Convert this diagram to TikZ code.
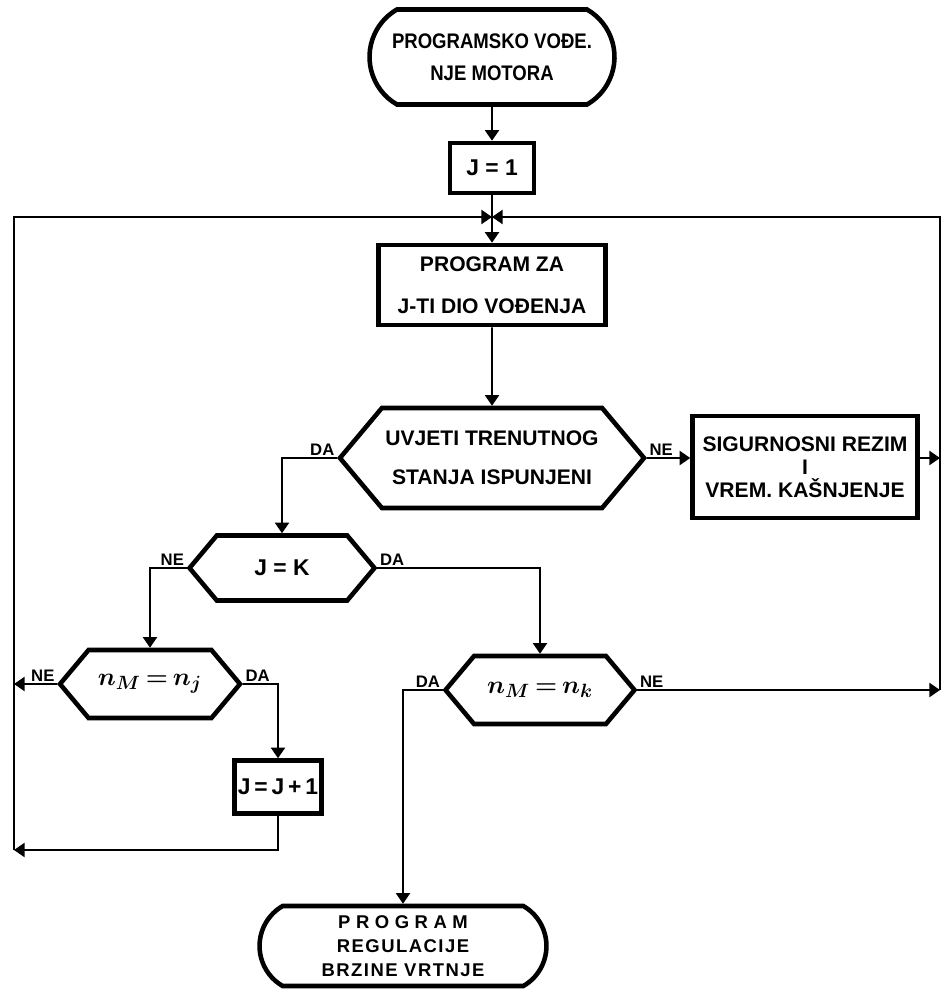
\documentclass[tikz,border=0pt]{standalone}
\usepackage{fontspec}
\setmainfont{Liberation Sans}
\usetikzlibrary{arrows.meta,positioning,shapes.misc,shapes.symbols}

\begin{document}
\begin{tikzpicture}[x=0.02cm,y=-0.02cm,
    >={Triangle[width=8pt,length=6pt]},
    line/.style={line width=1pt},
    arr/.style={line, ->},
    box/.style={draw, line width=2.6pt, align=center, inner sep=2pt,
                font=\bfseries\fontsize{12}{14}\selectfont},
    term/.style={box, rounded rectangle, rounded rectangle arc length=120},
    test/.style={box, signal, signal to=west and east, signal pointer angle=100},
    big/.style={font=\bfseries\fontsize{13}{15}\selectfont},
    eqn/.style={font=\fontsize{15}{17}\selectfont\boldmath},
    lab/.style={font=\bfseries\fontsize{9.5}{11}\selectfont, inner sep=1pt}]
    \useasboundingbox (0,0) rectangle (944,989);

    % Start and initial value
    \node[term, minimum width=4.9cm, minimum height=1.9cm, inner sep=0pt,
          font=\bfseries\fontsize{12}{14}\selectfont\addfontfeature{FakeStretch=0.88}]
          (start) at (492,57)
        {PROGRAMSKO VOĐE.\\[4pt]NJE MOTORA};
    \node[box, big, minimum width=1.68cm, minimum height=1cm] (j1) at (492,168) {J = 1};

    % Main program block
    \node[box, minimum width=4.54cm, minimum height=1.6cm] (prog) at (492,285)
        {PROGRAM ZA\\[10pt]J-TI DIO VOĐENJA};

    % Tests
    \node[test, minimum width=6.04cm, minimum height=2cm] (cond) at (492,458)
        {UVJETI TRENUTNOG\\[8pt]STANJA ISPUNJENI};
    \node[box, minimum width=4.5cm, minimum height=2.04cm] (sig) at (805,467)
        {SIGURNOSNI REZIM\\[-1pt]I\\[-1pt]VREM. KAŠNJENJE};
    \node[test, big, minimum width=3.7cm, minimum height=1.3cm] (jk) at (282,568) {J = K};
    \node[test, eqn, minimum width=3.6cm, minimum height=1.36cm] (nj) at (150,684)
        {$n_M\,{=}\,n_j$};
    \node[box, big, minimum width=1.64cm, minimum height=1.06cm] (inc) at (278,787)
        {J\,=\,J\,+\,1};
    \node[test, eqn, minimum width=3.78cm, minimum height=1.36cm] (nk) at (540,690)
        {$n_M\,{=}\,n_k$};

    % End
    \node[term, minimum width=5.88cm, minimum height=1.6cm,
          font=\bfseries\fontsize{10.5}{13.5}\selectfont] (stop) at (403,946)
        {{\addfontfeature{LetterSpace=30}PROGRAM}\\
         {\addfontfeature{LetterSpace=8}REGULACIJE}\\
         {\addfontfeature{LetterSpace=8}BRZINE VRTNJE}};

    % Loop corners
    \coordinate (jn) at (492,217);
    \coordinate (lt) at (14,217);
    \coordinate (lb) at (14,850);
    \coordinate (rt) at (940,217);
    \coordinate (rb) at (940,690);

    % Connectors
    \draw[arr] (start) -- (j1);
    \draw[arr] (j1) -- (prog);
    \draw[arr] (prog) -- (cond);
    \draw[arr] (lb) -- (lt) -- (jn);
    \draw[arr] (rb) -- (rt) -- (jn);

    \draw[arr] (cond.west) node[lab, above left] {DA} -| (jk.north);
    \draw[arr] (cond.east) node[lab, above right] {NE} -- (cond.east -| sig.west);
    \draw[arr] (sig.east |- cond.east) -- (cond.east -| rt);

    \draw[arr] (jk.west) node[lab, above left] {NE} -| (nj.north);
    \draw[arr] (jk.east) node[lab, above right] {DA} -| (nk.north);

    \draw[arr] (nj.west) node[lab, above left] {NE} -- (nj.west -| lt);
    \draw[arr] (nj.east) node[lab, above right] {DA} -| (inc.north);
    \draw[arr] (inc.south) |- (lb);

    \draw[arr] (nk.west) node[lab, above left] {DA} -| (stop.north);
    \draw[arr] (nk.east) node[lab, above right] {NE} -- (rb);
\end{tikzpicture}
\end{document}
